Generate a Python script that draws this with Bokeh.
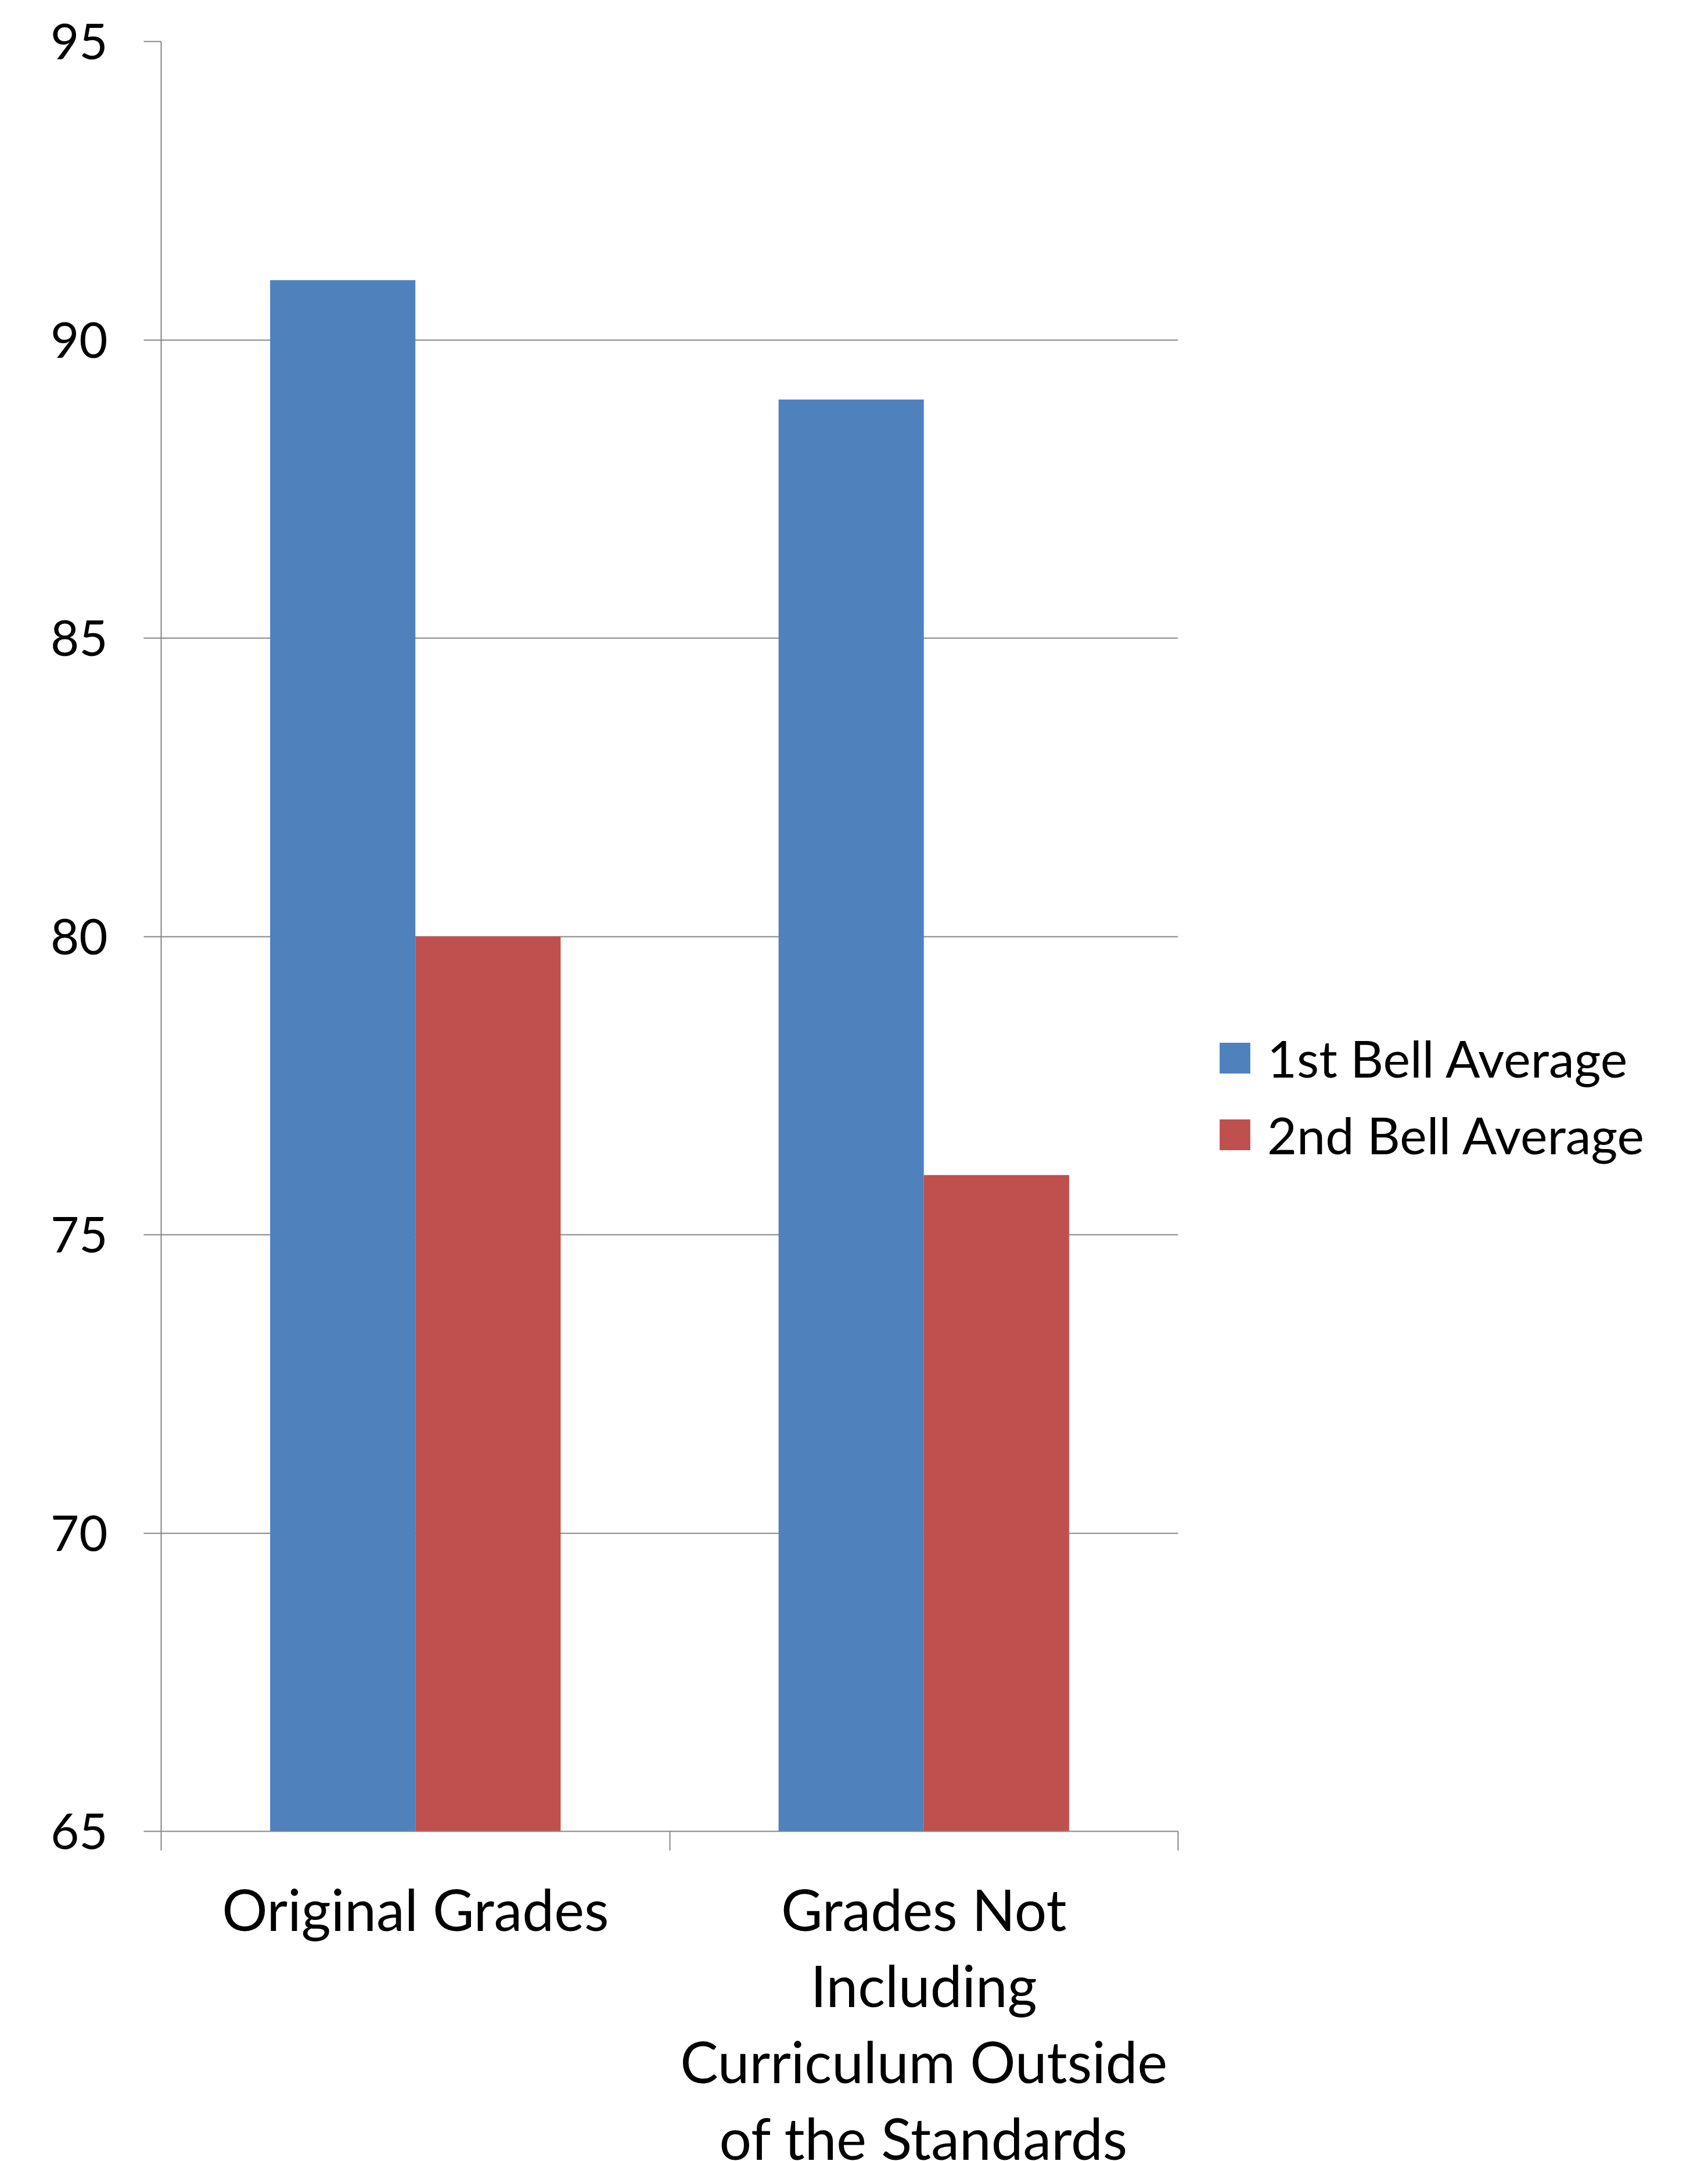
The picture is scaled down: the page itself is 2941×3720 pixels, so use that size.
from bokeh.plotting import figure
from bokeh.layouts import column, row
from bokeh.models import (FactorRange, Range1d, LinearAxis, FixedTicker, Legend, LegendItem,
                          ColumnDataSource)
from bokeh.transform import dodge
from bokeh.embed import file_html
from bokeh.resources import INLINE

# ---- data ----
categories = ["Original Grades", "Grades Not\nIncluding\nCurriculum Outside\nof the Standards"]
series_names = ["1st Bell Average", "2nd Bell Average"]
first_bell = [91, 89]
second_bell = [80, 76]
y_ticks = [65, 70, 75, 80, 85, 90, 95]

FONT = "Lato"
GRID = "#868686"
colors = ["#4F81BD", "#C0504D"]
W, H = 2941, 3720
LEFT_W = 2034
TOP_H = 3215

keys = ["c%d" % i for i in range(len(categories))]
src = ColumnDataSource(dict(cat=keys, s1=first_bell, s2=second_bell, label=categories))
xr = FactorRange(factors=keys)

p = figure(width=LEFT_W, height=TOP_H, output_backend="svg", toolbar_location=None,
           x_range=xr, y_range=Range1d(y_ticks[0], y_ticks[-1]),
           x_axis_location=None, min_border_left=277, min_border_right=LEFT_W - 2028,
           min_border_top=71, min_border_bottom=TOP_H - 3152)
p.outline_line_color = None
p.background_fill_color = "white"
p.border_fill_color = "white"

bar_w = 1 / 3.5
r1 = p.vbar(x=dodge("cat", -bar_w / 2, range=xr), top="s1", bottom=y_ticks[0], width=bar_w,
            source=src, fill_color=colors[0], line_color=None)
r2 = p.vbar(x=dodge("cat", bar_w / 2, range=xr), top="s2", bottom=y_ticks[0], width=bar_w,
            source=src, fill_color=colors[1], line_color=None)

# y axis
yax = p.yaxis[0]
yax.ticker = FixedTicker(ticks=y_ticks)
yax.axis_line_color = GRID
yax.axis_line_width = 2
yax.major_tick_line_color = GRID
yax.major_tick_line_width = 2
yax.major_tick_out = 30
yax.major_tick_in = 0
yax.minor_tick_line_color = None
yax.major_label_standoff = 62
yax.major_label_text_font = FONT
yax.major_label_text_font_size = "85px"
yax.major_label_text_color = "black"

p.ygrid.ticker = FixedTicker(ticks=y_ticks)
p.ygrid.grid_line_color = GRID
p.ygrid.grid_line_width = 2
p.xgrid.grid_line_color = None

# x axis: tick marks at category boundaries (synthetic coordinates 0..n), no labels
bounds = list(range(len(categories) + 1))
xax = LinearAxis(ticker=FixedTicker(ticks=bounds))
xax.axis_line_color = GRID
xax.axis_line_width = 2
xax.major_tick_line_color = GRID
xax.major_tick_line_width = 2
xax.major_tick_out = 33
xax.major_tick_in = 0
xax.minor_tick_line_color = None
xax.major_label_overrides = {b: "" for b in bounds}
xax.major_label_text_font_size = "1px"
xax.major_label_standoff = 0
p.add_layout(xax, "below")

# category labels strip below the axis, sharing the x range
q = figure(width=LEFT_W, height=H - TOP_H, output_backend="svg", toolbar_location=None,
           x_range=xr, y_range=Range1d(0, 1), x_axis_location=None, y_axis_location=None,
           min_border_left=277, min_border_right=LEFT_W - 2028, min_border_top=0, min_border_bottom=0)
q.outline_line_color = None
q.grid.grid_line_color = None
q.text(x="cat", y=1, text="label", source=src, text_align="center", text_baseline="top",
       text_font={"value": FONT}, text_font_size="98px", text_line_height=1.114,
       text_color="black", y_offset=11)

# legend panel on the right (swatch renderers fall outside this panel's ranges)
r = figure(width=W - LEFT_W, height=H, output_backend="svg", toolbar_location=None,
           x_range=Range1d(0, 1), y_range=Range1d(0, 1), x_axis_location=None, y_axis_location=None,
           min_border=0)
r.outline_line_color = None
r.grid.grid_line_color = None
lr = [r.vbar(x=col, top=col, bottom=col, width=bar_w, source=src, fill_color=c, line_color=None)
      for col, c in zip(["s1", "s2"], colors)]
legend = Legend(items=[LegendItem(label=n, renderers=[g]) for n, g in zip(series_names, lr)],
                location=(59, 1714), orientation="vertical")
legend.border_line_color = None
legend.background_fill_alpha = 0
legend.padding = 0
legend.margin = 0
legend.glyph_width = 66
legend.glyph_height = 66
legend.label_standoff = 23
legend.label_text_font = FONT
legend.label_text_font_size = "88px"
legend.label_text_color = "black"
legend.label_height = 53
legend.spacing = 26
legend.label_text_baseline = "middle"
r.add_layout(legend, "center")

layout = row(column(p, q, spacing=0), r, spacing=0)
open("out.html", "w").write(file_html(layout, INLINE))
